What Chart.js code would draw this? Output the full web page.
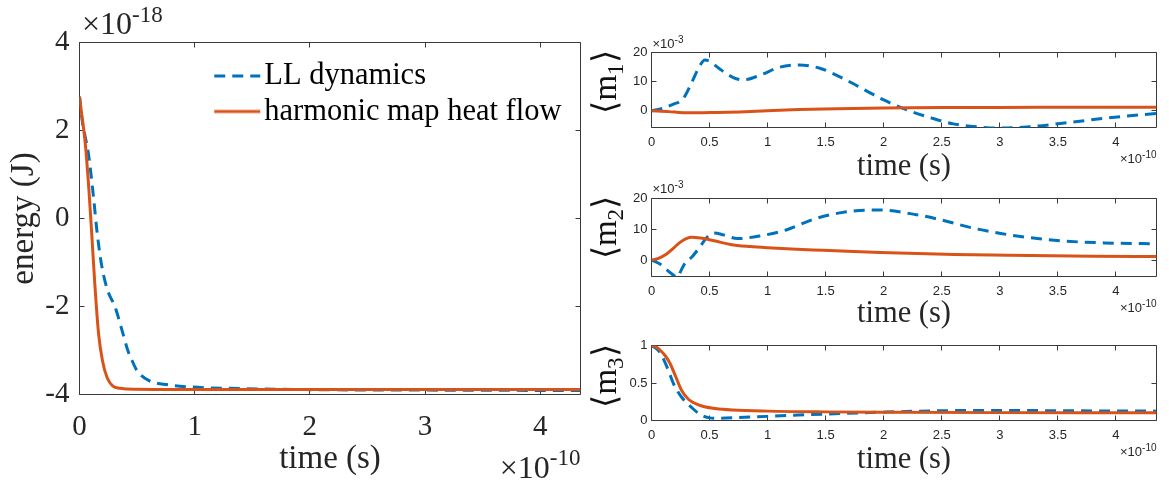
<!DOCTYPE html>
<html><head><meta charset="utf-8">
<script src="https://cdn.jsdelivr.net/npm/chart.js@4.4.1/dist/chart.umd.min.js"></script>
<style>
html,body{margin:0;padding:0;background:#fff;}
#wrap{position:relative;width:1169px;height:484px;background:#fff;overflow:hidden;}
.box{position:absolute;}
</style></head><body>
<div id="wrap">
 <div class="box" style="left:0;top:0;width:600px;height:484px"><canvas id="cE"></canvas></div>
 <div class="box" style="left:575px;top:0;width:594px;height:190px"><canvas id="c1"></canvas></div>
 <div class="box" style="left:575px;top:175px;width:594px;height:161px"><canvas id="c2"></canvas></div>
 <div class="box" style="left:575px;top:325px;width:594px;height:159px"><canvas id="c3"></canvas></div>
</div>
<script>
// ---------- data (time in units of 1e-10 s) ----------
const energyHMTime  = [0, 0.02, 0.047, 0.08, 0.106, 0.133, 0.166, 0.2, 0.24, 0.29, 0.35, 0.41, 0.5, 0.64, 1.0, 2.0, 3.0, 4.35];
const energyHMValue = [2.77, 2.35, 1.79, 0.72, -0.34, -1.49, -2.63, -3.24, -3.62, -3.81, -3.86, -3.875, -3.88, -3.885, -3.888, -3.888, -3.888, -3.888];
const energyLLTime  = [0, 0.025, 0.05, 0.075, 0.1, 0.125, 0.15, 0.19, 0.24, 0.31, 0.37, 0.42, 0.46, 0.5, 0.6, 0.77, 0.97, 1.3, 2.0, 3.0, 4.35];
const energyLLValue = [2.77, 2.2, 1.85, 1.52, 1.0, 0.4, -0.25, -1.03, -1.6, -2.02, -2.55, -3.0, -3.25, -3.46, -3.68, -3.78, -3.83, -3.86, -3.89, -3.9, -3.91];

const m1LLTime  = [0, 0.1, 0.19, 0.27, 0.35, 0.41, 0.46, 0.5, 0.58, 0.7, 0.79, 0.94, 1.1, 1.27, 1.45, 1.65, 1.84, 2.0, 2.2, 2.42, 2.6, 2.8, 3.0, 3.26, 3.52, 3.9, 4.35];
const m1LLValue = [0, 0.9, 2.3, 4.0, 10.0, 15.0, 17.4, 17.0, 14.6, 11.5, 10.6, 12.3, 14.9, 15.7, 14.6, 11.1, 7.1, 3.7, 0.3, -2.6, -4.5, -5.5, -5.95, -5.5, -4.4, -2.6, -0.9];
const m1HMTime  = [0, 0.15, 0.27, 0.39, 0.55, 0.76, 1.0, 1.27, 1.6, 2.0, 2.5, 3.0, 3.5, 4.35];
const m1HMValue = [0, -0.3, -0.65, -0.7, -0.6, -0.4, 0.0, 0.4, 0.7, 0.95, 1.1, 1.15, 1.17, 1.2];

const m2LLTime  = [0, 0.08, 0.16, 0.225, 0.255, 0.29, 0.35, 0.42, 0.48, 0.54, 0.62, 0.74, 0.94, 1.16, 1.39, 1.65, 1.95, 2.23, 2.48, 2.77, 3.1, 3.52, 3.9, 4.35];
const m2LLValue = [0, -1.4, -4.0, -5.5, -3.3, -0.9, 1.1, 4.5, 7.5, 8.8, 8.2, 7.0, 7.9, 9.8, 13.2, 15.5, 16.3, 15.1, 13.2, 10.4, 8.1, 6.3, 5.6, 5.3];
const m2HMTime  = [0, 0.06, 0.13, 0.19, 0.24, 0.3, 0.35, 0.4, 0.45, 0.55, 0.68, 0.85, 1.0, 1.25, 1.48, 1.97, 2.61, 3.26, 3.8, 4.35];
const m2HMValue = [0, 0.6, 2.0, 3.9, 5.6, 7.0, 7.4, 7.3, 7.0, 6.2, 5.1, 4.4, 4.0, 3.5, 3.2, 2.5, 1.8, 1.5, 1.3, 1.2];

const m3LLTime  = [0, 0.04, 0.08, 0.145, 0.19, 0.26, 0.355, 0.42, 0.5, 0.6, 0.75, 1.0, 1.48, 1.97, 2.5, 3.0, 3.5, 4.35];
const m3LLValue = [1, 0.96, 0.89, 0.67, 0.49, 0.31, 0.16, 0.08, 0.035, 0.03, 0.04, 0.055, 0.085, 0.11, 0.13, 0.135, 0.13, 0.125];
const m3HMTime  = [0, 0.04, 0.08, 0.12, 0.16, 0.21, 0.26, 0.32, 0.42, 0.55, 0.7, 1.0, 1.5, 2.0, 3.0, 4.35];
const m3HMValue = [1, 0.98, 0.93, 0.86, 0.76, 0.58, 0.4, 0.28, 0.2, 0.16, 0.14, 0.125, 0.115, 0.11, 0.105, 0.105];

const mainXTicks = [0, 1, 2, 3, 4];
const mainXLabels = ['0', '1', '2', '3', '4'];
const mainYTicks = [-4, -2, 0, 2, 4];
const mainYLabels = ['-4', '-2', '0', '2', '4'];
const subXTicks = [0, 0.5, 1, 1.5, 2, 2.5, 3, 3.5, 4];
const subXLabels = ['0', '0.5', '1', '1.5', '2', '2.5', '3', '3.5', '4'];
const m12YTicks = [0, 10, 20];
const m12YLabels = ['0', '10', '20'];
const m3YTicks = [0, 0.5, 1];
const m3YLabels = ['0', '0.5', '1'];
const seriesNames = ['LL dynamics', 'harmonic map heat flow'];

// ---------- styling ----------
const SERIF = '"Liberation Serif", "Times New Roman", Times, serif';
const SANS = '"Liberation Sans", Arial, Helvetica, sans-serif';
const BLUE = '#0072BD', ORANGE = '#D95319', AXIS = '#262626';

const decorCfg = {};
function drawPieces(ctx, it) {
  ctx.save();
  ctx.translate(it.x, it.y);
  if (it.rot) ctx.rotate(it.rot * Math.PI / 180);
  ctx.fillStyle = it.color || AXIS;
  ctx.textBaseline = 'alphabetic';
  ctx.textAlign = 'left';
  let w = 0;
  it.pieces.forEach(p => { ctx.font = p.f; w += ctx.measureText(p.t).width; });
  let cur = it.align === 'right' ? -w : it.align === 'center' ? -w / 2 : 0;
  it.pieces.forEach(p => { ctx.font = p.f; ctx.fillText(p.t, cur, p.dy || 0); cur += ctx.measureText(p.t).width; });
  ctx.restore();
}
const decor = {
  id: 'decor',
  beforeDatasetsDraw(chart) {
    const c = decorCfg[chart.canvas.id]; if (!c) return;
    const {ctx, chartArea: a, scales: {x, y}} = chart;
    ctx.save();
    ctx.strokeStyle = c.boxColor; ctx.lineWidth = 1;
    ctx.beginPath();
    ctx.rect(a.left, a.top, a.right - a.left, a.bottom - a.top);
    x.ticks.forEach(t => {
      const p = Math.floor(x.getPixelForValue(t.value)) + 0.5;
      ctx.moveTo(p, a.bottom); ctx.lineTo(p, a.bottom - c.tick);
      ctx.moveTo(p, a.top); ctx.lineTo(p, a.top + c.tick);
    });
    y.ticks.forEach(t => {
      const p = Math.floor(y.getPixelForValue(t.value)) + 0.5;
      ctx.moveTo(a.left, p); ctx.lineTo(a.left + c.tick, p);
      ctx.moveTo(a.right, p); ctx.lineTo(a.right - c.tick, p);
    });
    ctx.stroke();
    ctx.restore();
  },
  afterDraw(chart) {
    const c = decorCfg[chart.canvas.id]; if (!c) return;
    (c.texts || []).forEach(it => drawPieces(chart.ctx, it));
  }
};
const legendMover = {
  id: 'legendMover',
  afterLayout(chart) {
    const c = decorCfg[chart.canvas.id];
    const lg = chart.legend;
    if (!c || !c.legendPos || !lg) return;
    const w = 400;
    lg.left = c.legendPos.x; lg.top = c.legendPos.y;
    lg.right = lg.left + w; lg.width = w;
    lg.bottom = lg.top + lg.height;
  }
};

// small line-sample image for a legend entry, built from the dataset's own line style
function lineSample(ds) {
  const cv = document.createElement('canvas');
  cv.width = 64; cv.height = 8;
  const g = cv.getContext('2d');
  g.strokeStyle = ds.borderColor; g.lineWidth = ds.borderWidth;
  g.setLineDash(ds.borderDash || []);
  g.beginPath(); g.moveTo(12.25, 4); g.lineTo(58.25, 4); g.stroke();
  return cv;
}

function pts(ts, vs) { return ts.map((t, i) => ({x: t, y: vs[i]})); }

function makeChart(id, cfg) {
  decorCfg[id] = cfg.decor;
  return new Chart(document.getElementById(id), {
    type: 'line',
    data: {
      datasets: [
        {label: seriesNames[1], data: pts(cfg.hmT, cfg.hmV), borderColor: ORANGE, backgroundColor: ORANGE,
         borderWidth: cfg.lw, pointRadius: 0, cubicInterpolationMode: 'monotone', fill: false},
        {label: seriesNames[0], data: pts(cfg.llT, cfg.llV), borderColor: BLUE, backgroundColor: BLUE,
         borderWidth: cfg.lw, borderDash: [11, 7], pointRadius: 0, cubicInterpolationMode: 'monotone', fill: false}
      ]
    },
    options: {
      responsive: true, maintainAspectRatio: false, animation: false, devicePixelRatio: 1,
      layout: {padding: cfg.pad},
      plugins: {legend: cfg.legend || {display: false}, tooltip: {enabled: false}},
      scales: {
        x: {
          type: 'linear', min: 0, max: 4.35,
          grid: {display: false, drawTicks: false}, border: {display: false},
          afterFit: s => { s.height = cfg.xH; },
          afterBuildTicks: s => { s.ticks = cfg.xTicks.map(v => ({value: v})); },
          ticks: {padding: cfg.xPad, color: AXIS, font: cfg.tickFont, autoSkip: false, maxRotation: 0,
                  callback: (v, i) => cfg.xLabels[i]},
          title: {display: true, text: 'time (s)', color: AXIS, font: cfg.titleFont,
                  padding: {top: 0, bottom: cfg.xTitlePad}}
        },
        y: {
          type: 'linear', min: cfg.yMin, max: cfg.yMax,
          grid: {display: false, drawTicks: false}, border: {display: false},
          afterFit: s => { s.width = cfg.yW; },
          afterBuildTicks: s => { s.ticks = cfg.yTicks.map(v => ({value: v})); },
          ticks: {padding: cfg.yPad, color: AXIS, font: cfg.tickFont, autoSkip: false,
                  callback: (v, i) => cfg.yLabels[i]},
          title: cfg.yTitle || {display: false}
        }
      }
    },
    plugins: [decor, legendMover]
  });
}

const exp = (x, y, big, small, base, sup, bf, sf, dy, align) => ({
  x, y, align, pieces: [{t: base, f: bf + 'px ' + big}, {t: sup, f: sf + 'px ' + small, dy}]
});
const mLabel = (y, n) => ({
  x: 41, y, rot: -90, align: 'center', color: '#111',
  pieces: [{t: '⟨', f: '34px ' + SERIF}, {t: 'm', f: '33px ' + SERIF}, {t: n, f: '23px ' + SERIF, dy: 7}, {t: '⟩', f: '34px ' + SERIF}]
});

// ---------- main energy chart ----------
makeChart('cE', {
  hmT: energyHMTime, hmV: energyHMValue, llT: energyLLTime, llV: energyLLValue, lw: 3,
  pad: {left: 0, top: 42.5, right: 19.5, bottom: 0},
  xH: 89.5, yW: 79.5, xPad: 15, yPad: 10,
  xTicks: mainXTicks, xLabels: mainXLabels, yTicks: mainYTicks, yLabels: mainYLabels,
  yMin: -4, yMax: 4,
  tickFont: {family: SERIF, size: 29}, titleFont: {family: SERIF, size: 33},
  xTitlePad: 4.9,
  yTitle: {display: true, text: 'energy (J)', color: AXIS, font: {family: SERIF, size: 33}, padding: {top: 4.9, bottom: 0}},
  legend: {display: true, position: 'chartArea', align: 'start',
           labels: {usePointStyle: true, pointStyleWidth: 30, padding: 5, color: '#000',
                    font: {family: SERIF, size: 30.5},
                    generateLabels: chart => Chart.defaults.plugins.legend.labels.generateLabels(chart)
                      .map(item => Object.assign(item, {pointStyle: lineSample(chart.data.datasets[item.datasetIndex])}))
                      .reverse()}},
  decor: {boxColor: '#3a3a3a', tick: 5, legendPos: {x: 214, y: 55.75},
          texts: [exp(82, 34, SERIF, SERIF, '×10', '-18', 32, 23, -12.5, 'left'),
                  exp(580.5, 478, SERIF, SERIF, '×10', '-10', 32, 23, -13, 'right')]}
});

// ---------- subplots ----------
const subCommon = {
  lw: 3, xPad: 7, yPad: 4, yW: 76.5,
  xTicks: subXTicks, xLabels: subXLabels,
  tickFont: {family: SANS, size: 13}, titleFont: {family: SERIF, size: 30.5}
};
makeChart('c1', Object.assign({}, subCommon, {
  hmT: m1HMTime, hmV: m1HMValue, llT: m1LLTime, llV: m1LLValue,
  pad: {left: 0, top: 52.5, right: 12.5, bottom: 0}, xH: 62.5, xTitlePad: 5,
  yTicks: m12YTicks, yLabels: m12YLabels, yMin: -5.75, yMax: 20,
  decor: {boxColor: '#3a3a3a', tick: 5, texts: [
    exp(77.5, 48, SANS, SANS, '×10', '-3', 13, 10, -5, 'left'),
    exp(581.5, 163, SANS, SANS, '×10', '-10', 13, 10, -5, 'right'),
    mLabel(82, '1')]}
}));
makeChart('c2', Object.assign({}, subCommon, {
  hmT: m2HMTime, hmV: m2HMValue, llT: m2LLTime, llV: m2LLValue,
  pad: {left: 0, top: 23.5, right: 12.5, bottom: 0}, xH: 59.5, xTitlePad: 3.7,
  yTicks: m12YTicks, yLabels: m12YLabels, yMin: -5.3, yMax: 20,
  decor: {boxColor: '#3a3a3a', tick: 5, texts: [
    exp(77.5, 18, SANS, SANS, '×10', '-3', 13, 10, -5, 'left'),
    exp(581.5, 136.5, SANS, SANS, '×10', '-10', 13, 10, -5, 'right'),
    mLabel(52.5, '2')]}
}));
makeChart('c3', Object.assign({}, subCommon, {
  hmT: m3HMTime, hmV: m3HMValue, llT: m3LLTime, llV: m3LLValue,
  pad: {left: 0, top: 20.5, right: 12.5, bottom: 0}, xH: 63.5, xTitlePad: 5.7,
  yTicks: m3YTicks, yLabels: m3YLabels, yMin: 0, yMax: 1,
  decor: {boxColor: '#3a3a3a', tick: 5, texts: [
    exp(581.5, 130.5, SANS, SANS, '×10', '-10', 13, 10, -5, 'right'),
    mLabel(51, '3')]}
}));
</script>
</body></html>
